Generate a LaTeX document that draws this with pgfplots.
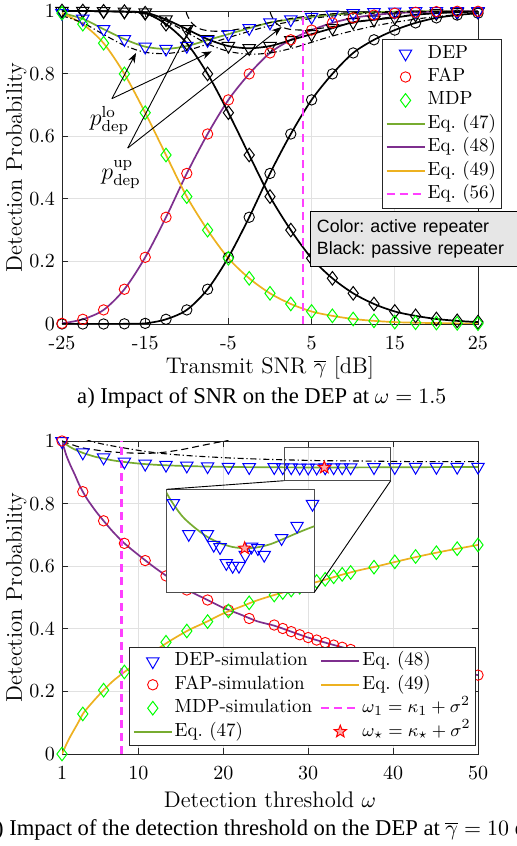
\documentclass[border=0pt]{standalone}
\usepackage{pgfplots}
\usepackage{pgfplotstable}
\pgfplotsset{compat=1.18}
\usepackage{fontspec}
\newfontfamily\helv{Liberation Sans}
\newfontfamily\timesf{Liberation Serif}
\usetikzlibrary{arrows.meta}

\definecolor{mgreen}{HTML}{77AC30}
\definecolor{mpurple}{HTML}{7E2F8E}
\definecolor{morange}{HTML}{EDB120}
\definecolor{mmag}{HTML}{FF40FF}
\definecolor{gridc}{HTML}{E1E1E1}
\definecolor{axc}{HTML}{262626}
\definecolor{boxgray}{HTML}{E6E6E6}

\pgfdeclareplotmark{pstar}{%
  \pgfpathmoveto{\pgfpointpolar{90}{\pgfplotmarksize}}%
  \pgfpathlineto{\pgfpointscale{0.42}{\pgfpointpolar{126}{\pgfplotmarksize}}}%
  \pgfpathlineto{\pgfpointpolar{162}{\pgfplotmarksize}}%
  \pgfpathlineto{\pgfpointscale{0.42}{\pgfpointpolar{198}{\pgfplotmarksize}}}%
  \pgfpathlineto{\pgfpointpolar{234}{\pgfplotmarksize}}%
  \pgfpathlineto{\pgfpointscale{0.42}{\pgfpointpolar{270}{\pgfplotmarksize}}}%
  \pgfpathlineto{\pgfpointpolar{306}{\pgfplotmarksize}}%
  \pgfpathlineto{\pgfpointscale{0.42}{\pgfpointpolar{342}{\pgfplotmarksize}}}%
  \pgfpathlineto{\pgfpointpolar{18}{\pgfplotmarksize}}%
  \pgfpathlineto{\pgfpointscale{0.42}{\pgfpointpolar{54}{\pgfplotmarksize}}}%
  \pgfpathclose
  \pgfusepathqfillstroke}

\pgfplotsset{
  tri/.style={only marks, mark=triangle, mark size=3.6pt, mark options={rotate=180, solid, line width=0.5pt}},
  circ/.style={only marks, mark=o, mark size=2.6pt, mark options={solid, line width=0.45pt}},
  diam/.style={only marks, mark=diamond, mark size=3.4pt, mark options={solid, line width=0.5pt}},
  curve/.style={line width=0.85pt, no marks},
  lodash/.style={black, line width=0.55pt, no marks, dash pattern=on 3pt off 1.4pt on 0.6pt off 1.4pt},
  updash/.style={black, line width=0.55pt, no marks, dash pattern=on 3.5pt off 2pt},
  lineimg/.style={legend image code/.code={\draw[#1, line width=0.95pt] (0pt,0pt) -- (19pt,0pt);}},
  mystyle/.style={
    scale only axis, width=208pt, height=156.5pt,
    ymin=0, ymax=1,
    ytick={0,0.2,0.4,0.6,0.8,1}, yticklabels={0,0.2,0.4,0.6,0.8,1},
    grid=major, major grid style={gridc, line width=0.45pt},
    axis line style={axc, line width=0.45pt},
    tick style={axc, line width=0.45pt}, major tick length=3pt,
    tick pos=both, tick align=inside,
    tick label style={font=\fontsize{10}{12}\selectfont},
    xticklabel style={yshift=-2.5pt},
    label style={font=\fontsize{11.3}{13}\selectfont},
    ylabel={Detection Probability},
    ylabel style={at={(axis description cs:-0.11,0.5)}, anchor=center},
    clip mode=individual,
    legend cell align=left,
    legend image code/.code={\draw[mark repeat=2,mark phase=2,##1] plot coordinates {(0pt,0pt) (9.5pt,0pt) (19pt,0pt)};},
    legend style={font=\fontsize{9.5}{11}\selectfont, draw=axc, fill=white, line width=0.45pt,
      inner xsep=1.5pt, inner ysep=1.3pt, row sep=0pt,
      nodes={inner xsep=1pt, inner ysep=1.1pt, text height=7pt, text depth=2.5pt}},
  }
}

\pgfplotstableread{
x dA fA mA dP fP mP
-25 0.993 0.002 0.993 1.000 0.000 1.000
-22.5 0.975 0.015 0.958 1.000 0.000 1.000
-20 0.942 0.045 0.897 0.999 0.000 0.999
-17.5 0.910 0.111 0.799 0.998 0.0005 0.998
-15 0.886 0.213 0.675 0.995 0.002 0.993
-12.5 0.879 0.341 0.540 0.973 0.015 0.958
-10 0.888 0.481 0.407 0.942 0.045 0.897
-7.5 0.907 0.607 0.300 0.910 0.111 0.799
-5 0.926 0.716 0.210 0.888 0.213 0.675
-2.5 0.945 0.799 0.146 0.881 0.341 0.540
0 0.963 0.866 0.098 0.888 0.481 0.407
2.5 0.973 0.908 0.064 0.907 0.607 0.300
5 0.981 0.939 0.040 0.926 0.716 0.210
7.5 0.988 0.962 0.026 0.945 0.799 0.146
10 0.993 0.978 0.016 0.964 0.866 0.098
12.5 0.996 0.987 0.010 0.972 0.908 0.064
15 0.998 0.993 0.006 0.979 0.939 0.040
17.5 0.999 0.996 0.004 0.988 0.962 0.026
20 0.999 0.998 0.003 0.993 0.978 0.016
22.5 0.999 0.999 0.002 0.996 0.987 0.010
25 0.999 0.999 0.001 0.998 0.993 0.006
}\topdata

\pgfplotstableread{
x dep fap mdp
1 0.999 1.000 0.000
3.45 0.963 0.838 0.128
5.9 0.947 0.745 0.204
8.35 0.934 0.673 0.262
10.8 0.927 0.618 0.310
13.25 0.9235 0.569 0.357
15.7 0.921 0.524 0.393
18.15 0.919 0.492 0.423
20.6 0.91725 0.460 0.457
23.05 0.91605 0.433 0.483
26 0.91605 0.412 0.508
27 0.91563 0.401 0.516
28 0.91554 0.391 0.524
29 0.91492 0.381 0.533
30 0.91481 0.372 0.542
31 0.91481 0.364 0.551
32 0.91524 0.356 0.558
33 0.91556 0.348 0.566
34 0.91550 0.341 0.574
35 0.91524 0.334 0.580
37.75 0.91589 0.318 0.597
40.2 0.91637 0.303 0.614
42.65 0.91722 0.289 0.631
45.1 0.9168 0.276 0.643
47.55 0.9170 0.264 0.656
50 0.9172 0.252 0.668
}\botsim

\pgfplotstableread{
x e47 e48 e49
1 1.000 1.000 0.000
1.5 0.989 0.955 0.030
2 0.980 0.922 0.057
2.5 0.973 0.893 0.081
3 0.967 0.862 0.105
3.45 0.962 0.838 0.128
4 0.957 0.813 0.147
5 0.949 0.775 0.178
5.9 0.944 0.745 0.204
7 0.938 0.710 0.233
8.35 0.933 0.673 0.262
10 0.928 0.636 0.294
12 0.9240 0.594 0.331
14 0.9215 0.556 0.366
16 0.9197 0.521 0.397
18 0.9184 0.494 0.422
20 0.91745 0.467 0.449
22 0.91675 0.446 0.470
24 0.91630 0.424 0.491
26 0.91594 0.410 0.508
28 0.91570 0.391 0.524
30 0.91555 0.372 0.542
32 0.91550 0.356 0.557
34 0.91554 0.341 0.573
36 0.91566 0.328 0.587
38 0.91586 0.316 0.599
40 0.91607 0.304 0.612
42 0.91627 0.293 0.625
44 0.91645 0.282 0.637
46 0.91662 0.272 0.648
48 0.91678 0.262 0.658
50 0.91693 0.252 0.668
}\botline

\begin{document}
\begin{tikzpicture}
%================ TOP ================
\begin{axis}[mystyle,
  at={(31pt,261pt)}, anchor=south west,
  xmin=-25, xmax=25,
  xtick={-25,-15,-5,5,15,25}, xticklabels={-25,-15,-5,5,15,25},
  xlabel={Transmit SNR $\overline{\gamma}$ [dB]},
  xlabel style={at={(axis description cs:0.5,-0.141)}, anchor=center},
  legend style={at={(0.769,0.911)}, anchor=north west},
]
\addlegendimage{tri, blue}\addlegendentry{DEP}
\addlegendimage{circ, red}\addlegendentry{FAP}
\addlegendimage{diam, green}\addlegendentry{MDP}
\addlegendimage{lineimg=mgreen}\addlegendentry{Eq.\ (47)}
\addlegendimage{lineimg=mpurple}\addlegendentry{Eq.\ (48)}
\addlegendimage{lineimg=morange}\addlegendentry{Eq.\ (49)}
\addlegendimage{legend image code/.code={\draw[mmag, line width=1.2pt, dash pattern=on 4pt off 2.5pt] (0pt,0pt) -- (19pt,0pt);}}\addlegendentry{Eq.\ (56)}

% analytic curves
\addplot[curve, mgreen, smooth, forget plot] table[x=x, y=dA] {\topdata};
\addplot[curve, mpurple, smooth, forget plot] table[x=x, y=fA] {\topdata};
\addplot[curve, morange, smooth, forget plot] table[x=x, y=mA] {\topdata};
\addplot[curve, black, smooth, forget plot] table[x=x, y=dP] {\topdata};
\addplot[curve, black, smooth, forget plot] table[x=x, y=fP] {\topdata};
\addplot[curve, black, smooth, forget plot] table[x=x, y=mP] {\topdata};
% bounds
\addplot[lodash, smooth, forget plot] coordinates {(-25,0.985) (-22.5,0.962) (-20,0.925) (-17.5,0.89) (-15,0.868) (-12.5,0.864) (-10,0.874) (-7.5,0.894) (-5,0.915) (-2.5,0.935) (0,0.953) (2.5,0.966) (5,0.976) (7.5,0.984) (10,0.989) (12.5,0.993) (15,0.996) (20,0.998) (25,0.999)};
\addplot[updash, smooth, forget plot] coordinates {(-10.4,1.03) (-10.0,0.99) (-9.4,0.962) (-8.6,0.945) (-7.5,0.937) (-6,0.935) (-5,0.937) (-2.5,0.948) (0,0.963) (2.5,0.976) (5,0.985) (7.5,0.991) (10,0.995) (15,0.998) (25,0.999)};
\addplot[lodash, smooth, forget plot] coordinates {(-25,1.0) (-20,0.999) (-17.5,0.997) (-15,0.99) (-12.5,0.968) (-10,0.932) (-7.5,0.895) (-5,0.871) (-2.5,0.862) (0,0.866) (2.5,0.88) (5,0.9) (7.5,0.92) (10,0.937) (12.5,0.952) (15,0.964) (17.5,0.974) (20,0.982) (22.5,0.988) (25,0.992)};
\addplot[updash, smooth, forget plot] coordinates {(-0.3,1.03) (0.1,0.99) (0.7,0.962) (1.5,0.948) (2.5,0.941) (4,0.939) (5,0.941) (7.5,0.95) (10,0.962) (12.5,0.973) (15,0.982) (17.5,0.988) (20,0.993) (22.5,0.996) (25,0.998)};
% threshold
\addplot[mmag, line width=1.2pt, dash pattern=on 4pt off 2.5pt, forget plot] coordinates {(4.0,0) (4.0,1)};
% simulation markers
\addplot[tri, black, forget plot] table[x=x, y=dP] {\topdata};
\addplot[circ, black, forget plot] table[x=x, y=fP] {\topdata};
\addplot[diam, black, forget plot] table[x=x, y=mP] {\topdata};
\addplot[tri, blue, forget plot] table[x=x, y=dA] {\topdata};
\addplot[circ, red, forget plot] table[x=x, y=fA] {\topdata};
\addplot[diam, green, forget plot] table[x=x, y=mA] {\topdata};
% annotations
\draw[line width=0.45pt, -{Stealth[length=5pt,width=3.6pt]}] (axis cs:-19,0.72) -- (axis cs:-16.1,0.866);
\draw[line width=0.45pt, -{Stealth[length=5pt,width=3.6pt]}] (axis cs:-19,0.72) -- (axis cs:-7,0.871);
\draw[line width=0.45pt, -{Stealth[length=5pt,width=3.6pt]}] (axis cs:-17.1,0.562) -- (axis cs:-9.4,0.955);
\draw[line width=0.45pt, -{Stealth[length=5pt,width=3.6pt]}] (axis cs:-17.1,0.562) -- (axis cs:1.4,0.949);
\node[font=\fontsize{12}{14}\selectfont, inner sep=0pt] at (axis cs:-19.3,0.65) {$p_{\mathrm{dep}}^{\mathrm{lo}}$};
\node[font=\fontsize{12}{14}\selectfont, inner sep=0pt] at (axis cs:-17.9,0.478) {$p_{\mathrm{dep}}^{\mathrm{up}}$};
\node[draw=black, line width=0.45pt, fill=boxgray, anchor=north west, align=left,
  font=\helv\fontsize{8.9}{11.2}\selectfont, inner xsep=3.3pt, inner ysep=2pt,
  text width=96.9pt, minimum height=27.5pt] at (axis description cs:0.596,0.362)
  {\frenchspacing Color: active repeater\\Black: passive repeater};
\end{axis}

%================ BOTTOM ================
\begin{axis}[mystyle,
  at={(31pt,46pt)}, anchor=south west,
  xmin=1, xmax=50,
  xtick={1,10,20,30,40,50}, xticklabels={1,10,20,30,40,50},
  xlabel={Detection threshold $\omega$},
  xlabel style={at={(axis description cs:0.5,-0.147)}, anchor=center},
  legend columns=2,
  legend style={at={(0.162,0.343)}, anchor=north west, /tikz/every even column/.append style={column sep=3pt}},
]
\addlegendimage{tri, blue}\addlegendentry{DEP-simulation}
\addlegendimage{lineimg=mpurple}\addlegendentry{Eq.\ (48)}
\addlegendimage{circ, red}\addlegendentry{FAP-simulation}
\addlegendimage{lineimg=morange}\addlegendentry{Eq.\ (49)}
\addlegendimage{diam, green}\addlegendentry{MDP-simulation}
\addlegendimage{legend image code/.code={\draw[mmag, line width=1.2pt, dash pattern=on 4pt off 2.5pt] (0pt,0pt) -- (19pt,0pt);}}\addlegendentry{$\omega_1=\kappa_1+\sigma^2$}
\addlegendimage{lineimg=mgreen}\addlegendentry{Eq.\ (47)}
\addlegendimage{only marks, mark=pstar, mark size=3.2pt, mark options={draw=red, fill=red!35, line width=0.5pt}}\addlegendentry{$\omega_\star=\kappa_\star+\sigma^2$}

\addplot[curve, mgreen, smooth, forget plot] table[x=x, y=e47] {\botline};
\addplot[curve, mpurple, smooth, forget plot] table[x=x, y=e48] {\botline};
\addplot[curve, morange, smooth, forget plot] table[x=x, y=e49] {\botline};
\addplot[lodash, smooth, forget plot] coordinates {(3.8,1.006) (4.3,1.0) (5,0.995) (6,0.989) (7,0.984) (8.7,0.976) (10.5,0.968) (12.5,0.961) (14.5,0.956) (16.6,0.952) (20.6,0.946) (24.5,0.942) (28.5,0.939) (32,0.937) (36.3,0.936) (43,0.934) (50,0.934)};
\addplot[updash, smooth, forget plot] coordinates {(1,1.0) (2,0.99) (3.45,0.978) (5.9,0.968) (8,0.963) (10,0.961) (11.5,0.961) (13,0.964) (15,0.972) (17,0.983) (19,0.994) (20.3,1.0) (20.6,1.002)};
\addplot[mmag, line width=1.2pt, dash pattern=on 4pt off 2.5pt, forget plot] coordinates {(8.0,0) (8.0,1)};
\addplot[tri, blue, forget plot] table[x=x, y=dep] {\botsim};
\addplot[circ, red, forget plot] table[x=x, y=fap] {\botsim};
\addplot[diam, green, forget plot] table[x=x, y=mdp] {\botsim};
\addplot[only marks, mark=pstar, mark size=3.2pt, mark options={draw=red, fill=red!35, line width=0.5pt}, forget plot] coordinates {(31.9,0.9155)};
\draw[gray!60!black, line width=0.6pt] (axis cs:27.18,0.8732) rectangle (axis cs:39.72,0.9786);
\coordinate (insSW) at (axis cs:13.33,0.5166);
\coordinate (insTL) at (axis cs:13.33,0.8457);
\coordinate (insBR) at (axis cs:30.72,0.5166);
\coordinate (recBL) at (axis cs:27.18,0.8732);
\coordinate (recBR) at (axis cs:39.72,0.8732);
\end{axis}

%================ INSET ================
\begin{axis}[at={(insSW)}, anchor=south west,
  scale only axis, width=73.8pt, height=51.5pt,
  xmin=19.55, xmax=42.93, ymin=0.91379, ymax=0.91779,
  xtick=\empty, ytick=\empty,
  axis background/.style={fill=white},
  axis line style={gray!60!black, line width=0.6pt},
  clip mode=individual]
\addplot[curve, mgreen, smooth] table[x=x, y=e47] {\botline};
\addplot[tri, blue] table[x=x, y=dep] {\botsim};
\addplot[only marks, mark=pstar, mark size=3.2pt, mark options={draw=red, fill=red!35, line width=0.5pt}] coordinates {(31.9,0.9155)};
\end{axis}
\draw[black, line width=0.45pt] (recBL) -- (insTL);
\draw[black, line width=0.45pt] (recBR) -- (insBR);

%================ CAPTIONS ================
\node[font=\timesf\fontsize{11.3}{13}\selectfont] at (130.9pt,224pt) {a) Impact of SNR on the DEP at $\omega=1.5$};
\node[font=\timesf\fontsize{11.3}{13}\selectfont] at (131.5pt,8pt) {b) Impact of the detection threshold on the DEP at $\overline{\gamma}=10$ dB};

\pgfresetboundingbox
\path[use as bounding box] (0pt,0pt) rectangle (258.5pt,423pt);
\end{tikzpicture}
\end{document}
